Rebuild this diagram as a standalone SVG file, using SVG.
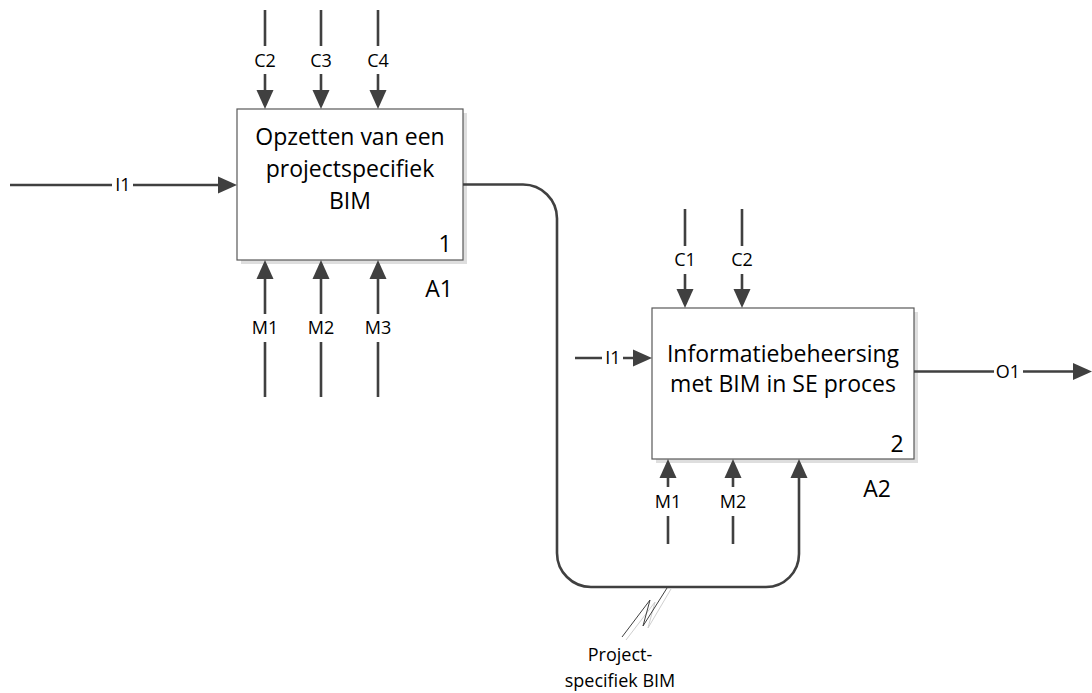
<svg xmlns="http://www.w3.org/2000/svg" width="1092" height="693" viewBox="0 0 1092 693">
  <style>
    .box { fill: #ffffff; stroke: #595959; stroke-width: 1.2; }
    .shadow { fill: #dedede; }
    .line { fill: none; stroke: #404040; stroke-width: 2.6; }
    .title { font-family: "Open Sans", "Liberation Sans", sans-serif; font-size: 23px; fill: #000000; text-anchor: middle; }
    .num { font-family: "Open Sans", "Liberation Sans", sans-serif; font-size: 23px; fill: #000000; text-anchor: middle; }
    .lbl { font-family: "Open Sans", "Liberation Sans", sans-serif; font-size: 18px; fill: #000000; text-anchor: middle; }
    .note { fill: none; stroke: #404040; stroke-width: 1; }
    .note-sh { fill: none; stroke: #cfcfcf; stroke-width: 1; }
  </style>
  <defs>
    <marker id="arrow" markerUnits="userSpaceOnUse" markerWidth="19" markerHeight="17" refX="0" refY="8.5" orient="auto" overflow="visible">
      <path d="M0,0 L19,8.5 L0,17 z" fill="#404040"/>
    </marker>
  </defs>

  <rect width="1092" height="693" fill="#ffffff"/>

  <!-- Activity A1 -->
  <g id="node-a1">
    <rect class="shadow" x="241" y="113" width="226" height="151"/>
    <rect class="box" x="237" y="109" width="226" height="151"/>
    <text class="title" x="350" y="145">Opzetten van een</text>
    <text class="title" x="350" y="177">projectspecifiek</text>
    <text class="title" x="350" y="209">BIM</text>
    <text class="num" x="445" y="252">1</text>
    <text class="num" x="439" y="297">A1</text>
  </g>

  <!-- Activity A2 -->
  <g id="node-a2">
    <rect class="shadow" x="656" y="312" width="262" height="151"/>
    <rect class="box" x="652" y="308" width="262" height="151"/>
    <text class="title" x="783" y="362">Informatiebeheersing</text>
    <text class="title" x="783" y="392">met BIM in SE proces</text>
    <text class="num" x="897" y="452">2</text>
    <text class="num" x="877" y="497">A2</text>
  </g>

  <!-- Arrows -->
  <g id="connectors">
    <!-- A1 input -->
    <path class="line" d="M10,185 H112 M133,185 H218" marker-end="url(#arrow)"/>
    <!-- A1 controls -->
    <path class="line" d="M265,10 V46 M265,74 V90" marker-end="url(#arrow)"/>
    <path class="line" d="M321,10 V46 M321,74 V90" marker-end="url(#arrow)"/>
    <path class="line" d="M378,10 V46 M378,74 V90" marker-end="url(#arrow)"/>
    <!-- A1 mechanisms -->
    <path class="line" d="M265,397 V342 M265,314 V279" marker-end="url(#arrow)"/>
    <path class="line" d="M321,397 V342 M321,314 V279" marker-end="url(#arrow)"/>
    <path class="line" d="M378,397 V342 M378,314 V279" marker-end="url(#arrow)"/>
    <!-- A1 output to A2 mechanism -->
    <path class="line" d="M463,184.5 H523 A34,34 0 0 1 557,218.5 V553 A34,34 0 0 0 591,587 H766 A33,33 0 0 0 799,554 V478" marker-end="url(#arrow)"/>
    <!-- A2 input -->
    <path class="line" d="M575,358 H602 M623,358 H633" marker-end="url(#arrow)"/>
    <!-- A2 controls -->
    <path class="line" d="M685,209 V246 M685,274 V289" marker-end="url(#arrow)"/>
    <path class="line" d="M742,209 V246 M742,274 V289" marker-end="url(#arrow)"/>
    <!-- A2 mechanisms -->
    <path class="line" d="M668,544 V516 M668,487 V478" marker-end="url(#arrow)"/>
    <path class="line" d="M733,544 V516 M733,487 V478" marker-end="url(#arrow)"/>
    <!-- A2 output -->
    <path class="line" d="M914,371.5 H994 M1023,371.5 H1073" marker-end="url(#arrow)"/>
    <!-- squiggle callout -->
    <path class="note-sh" d="M671,589 L648,628 L655,602 L626,640"/>
    <path class="note" d="M667,588 L643,626 L650,600 L622,637"/>
  </g>

  <!-- Arrow labels -->
  <g id="labels">
    <text class="lbl" x="123" y="191">I1</text>
    <text class="lbl" x="265" y="67">C2</text>
    <text class="lbl" x="321" y="67">C3</text>
    <text class="lbl" x="378" y="67">C4</text>
    <text class="lbl" x="265" y="334">M1</text>
    <text class="lbl" x="321" y="334">M2</text>
    <text class="lbl" x="378" y="334">M3</text>
    <text class="lbl" x="613" y="364">I1</text>
    <text class="lbl" x="685" y="266">C1</text>
    <text class="lbl" x="742" y="266">C2</text>
    <text class="lbl" x="668" y="508">M1</text>
    <text class="lbl" x="733" y="508">M2</text>
    <text class="lbl" x="1008" y="378">O1</text>
    <text class="lbl" x="620" y="661">Project-</text>
    <text class="lbl" x="620" y="687">specifiek BIM</text>
  </g>
</svg>
